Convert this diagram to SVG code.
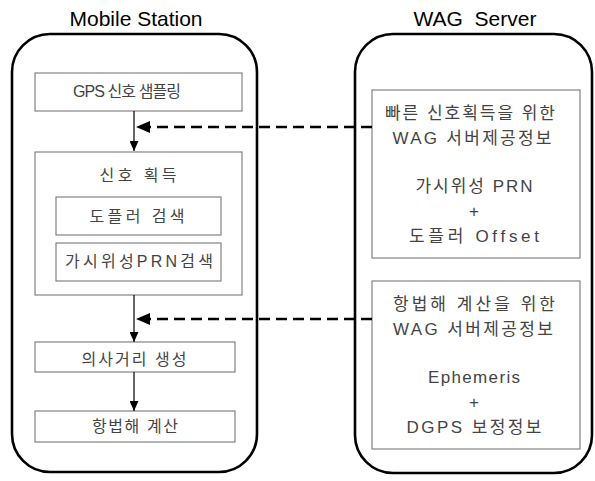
<svg xmlns="http://www.w3.org/2000/svg" width="595" height="481" viewBox="0 0 595 481">
  <style>
    .title { font-family: "Liberation Sans", "Noto Sans CJK KR", sans-serif; font-size: 21px; fill: #000; text-anchor: middle; }
    .lbl { font-family: "Liberation Sans", "Noto Sans CJK KR", sans-serif; font-size: 16px; fill: #444; text-anchor: middle; }
    .lbl-r { font-size: 17px; }
    .outer { fill: #fff; stroke: #000; stroke-width: 2.6; }
    .box { fill: #fff; stroke: #777; stroke-width: 1.1; }
    .flow { fill: none; stroke: #000; stroke-width: 1.2; marker-end: url(#arrDown); }
    .dash { fill: none; stroke: #000; stroke-width: 2.6; stroke-dasharray: 11 6; marker-end: url(#arrLeft); }
  </style>
  <defs>
    <marker id="arrDown" markerUnits="userSpaceOnUse" markerWidth="10" markerHeight="9" refX="10" refY="4.5" orient="auto">
      <path d="M0,0 L10,4.5 L0,9 z" fill="#000"/>
    </marker>
    <marker id="arrLeft" markerUnits="userSpaceOnUse" markerWidth="14" markerHeight="12" refX="14" refY="6" orient="auto">
      <path d="M0,0 L14,6 L0,12 z" fill="#000"/>
    </marker>
  </defs>

  <rect width="595" height="481" fill="#fff"/>

  <!-- column titles -->
  <text class="title" x="136" y="26">Mobile Station</text>
  <text class="title" x="475" y="26" xml:space="preserve">WAG  Server</text>

  <!-- Mobile Station side -->
  <g id="mobile-station">
    <rect class="outer" x="12" y="34" width="245" height="438" rx="38" ry="38"/>
  </g>
  <g id="gps-sampling">
    <rect class="box" x="35" y="73" width="207" height="38"/>
    <text class="lbl" x="127" y="97" textLength="108" lengthAdjust="spacing">GPS 신호 샘플링</text>
  </g>
  <g id="acquisition">
    <rect class="box" x="35" y="152" width="207" height="143"/>
    <text class="lbl" x="138" y="181" textLength="77" lengthAdjust="spacing">신호 획득</text>
  </g>
  <g id="doppler-search">
    <rect class="box" x="56" y="197" width="165" height="38"/>
    <text class="lbl" x="137" y="222" textLength="95" lengthAdjust="spacing">도플러 검색</text>
  </g>
  <g id="prn-search">
    <rect class="box" x="56" y="243" width="165" height="38"/>
    <text class="lbl" x="139" y="267" textLength="148" lengthAdjust="spacing">가시위성PRN검색</text>
  </g>
  <g id="pseudorange">
    <rect class="box" x="35" y="342" width="200" height="30"/>
    <text class="lbl" x="134" y="365" textLength="105" lengthAdjust="spacing">의사거리 생성</text>
  </g>
  <g id="nav-solution">
    <rect class="box" x="35" y="411" width="200" height="31"/>
    <text class="lbl" x="135" y="432" textLength="86" lengthAdjust="spacing">항법해 계산</text>
  </g>

  <!-- WAG Server side -->
  <g id="wag-server">
    <rect class="outer" x="355" y="34" width="237" height="439" rx="38" ry="38"/>
  </g>
  <g id="acq-aid">
    <rect class="box" x="372" y="90" width="208" height="168"/>
    <text class="lbl lbl-r" x="470" y="119" textLength="170" lengthAdjust="spacing">빠른 신호획득을 위한</text>
    <text class="lbl lbl-r" x="472" y="144" textLength="159" lengthAdjust="spacing">WAG 서버제공정보</text>
    <text class="lbl lbl-r" x="474" y="192" textLength="117" lengthAdjust="spacing">가시위성 PRN</text>
    <text class="lbl lbl-r" x="474" y="217">+</text>
    <text class="lbl lbl-r" x="474" y="242" textLength="130" lengthAdjust="spacing">도플러 Offset</text>
  </g>
  <g id="nav-aid">
    <rect class="box" x="372" y="281" width="208" height="168"/>
    <text class="lbl lbl-r" x="474" y="310" textLength="162" lengthAdjust="spacing">항법해 계산을 위한</text>
    <text class="lbl lbl-r" x="473" y="335" textLength="160" lengthAdjust="spacing">WAG 서버제공정보</text>
    <text class="lbl lbl-r" x="474" y="383" textLength="92" lengthAdjust="spacing">Ephemeris</text>
    <text class="lbl lbl-r" x="474" y="408">+</text>
    <text class="lbl lbl-r" x="474" y="433" textLength="135" lengthAdjust="spacing">DGPS 보정정보</text>
  </g>

  <!-- connectors -->
  <g id="connectors">
    <path class="flow" d="M134,111 V151"/>
    <path class="flow" d="M134,295 V342"/>
    <path class="flow" d="M134,372 V411"/>
    <path class="dash" d="M372,127 H136"/>
    <path class="dash" d="M372,319 H136"/>
  </g>
</svg>
